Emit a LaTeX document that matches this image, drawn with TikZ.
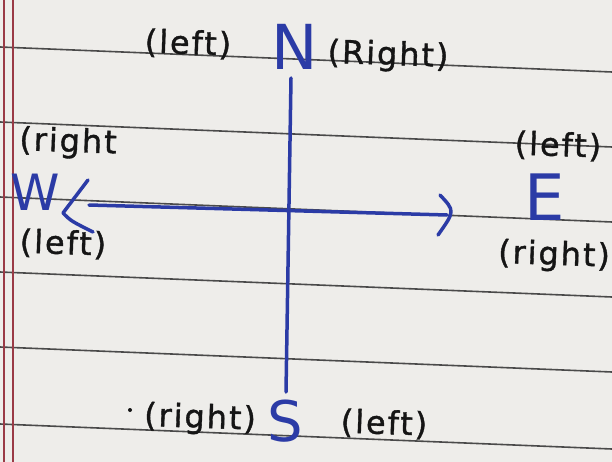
\documentclass[tikz,border=0pt]{standalone}
\usepackage{fontspec}
\usetikzlibrary{calc}
\newfontfamily\hand[LetterSpace=6,FakeBold=1.2]{DejaVu Sans}
\newfontfamily\dirfont{DejaVu Sans}
\definecolor{paper}{HTML}{EEEDEA}
\definecolor{ink}{HTML}{2B3BA6}
\definecolor{pen}{HTML}{151515}
\definecolor{rulegrey}{HTML}{4A4A4A}
\definecolor{marginred}{HTML}{9A3A46}
\begin{document}
\begin{tikzpicture}[x=1pt,y=-1pt,
 note/.style={text=pen, font=\hand\fontsize{32}{34}\selectfont, inner sep=0pt, rotate=-2},
 dirletter/.style={text=ink, font=\dirfont\fontsize{#1}{#1}\selectfont, inner sep=0pt},
 inkline/.style={draw=ink, line width=3.5pt, line cap=round, line join=round},
 ruled/.style={draw=rulegrey, line width=1.6pt}]
\fill[paper] (0,0) rectangle (612,462);
\useasboundingbox (0,0) rectangle (612,462);
\foreach \y in {47,122,197,272,347,424} \draw[ruled] (0,\y) -- (612,\y+25);
\draw[marginred, line width=1.5pt] (4,0) -- (4,462);
\draw[marginred, line width=1.5pt] (13,0) -- (13,462);

% compass letters
\node[dirletter=62] (N) at (295,47) {N};
\node[dirletter=50] (W) at (35,192) {W};
\node[dirletter=64] (E) at (545,197) {E};
\node[dirletter=56] (S) at (285,421) {S};

% labels
\node[note] (Nl) at (188,44) {(left)};
\node[note] (Nr) at (388,56) {(Right)};
\node[note] (Wr) at (68,143) {(right};
\node[note] (Wl) at (63,244) {(left)};
\node[note] (El) at (558,146) {(left)};
\node[note] (Er) at (554,256) {(right)};
\node[note] (Sr) at (200,419) {(right)};
\node[note] (Sl) at (384,424) {(left)};
\fill[pen] (130,410) circle (2);

% axes
\coordinate (nTop) at (291,78);
\coordinate (sBot) at (286,392);
\coordinate (wEnd) at (89,205);
\coordinate (eEnd) at (447,215);
\draw[inkline] (nTop) -- (sBot);
\draw[inkline] (wEnd) -- (eEnd);
% arrowheads
\draw[inkline] ($(wEnd)+(-1,-25)$) -- ($(wEnd)+(-26,8)$) .. controls ($(wEnd)+(-18,16)$) .. ($(wEnd)+(4,27)$);
\draw[inkline] ($(eEnd)+(-7,-20)$) .. controls ($(eEnd)+(8,-4)$) .. ($(eEnd)+(-9,20)$);
\end{tikzpicture}
\end{document}
